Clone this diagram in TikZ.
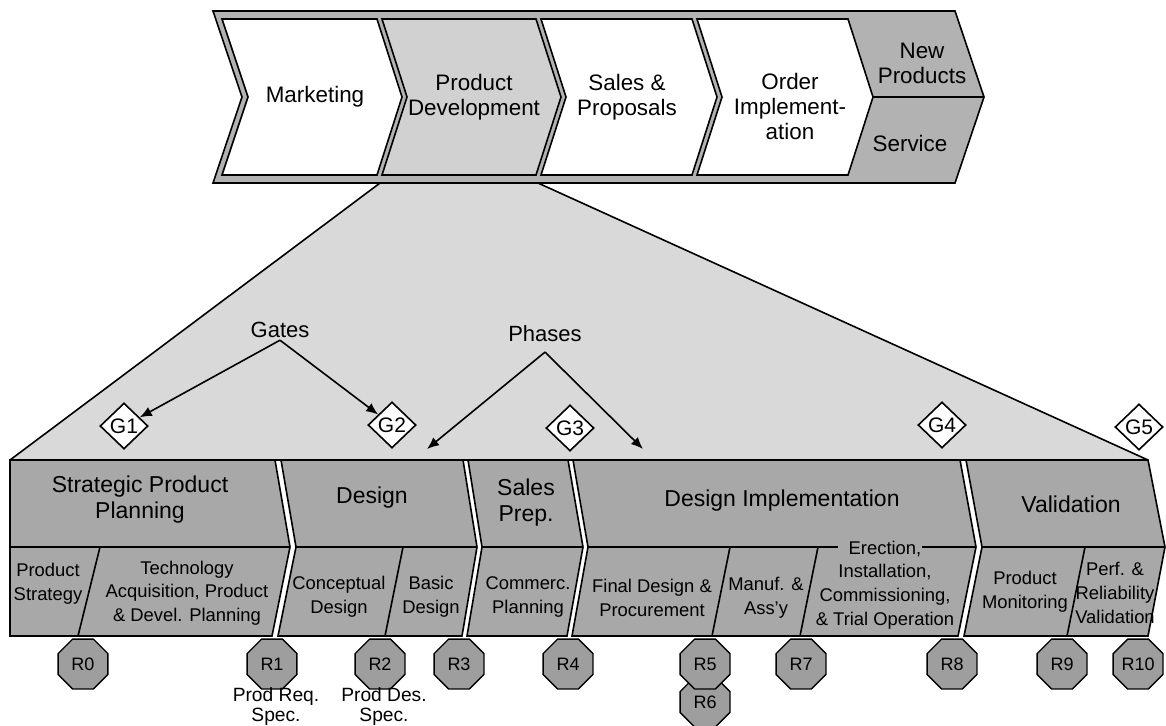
\documentclass[tikz,border=0pt]{standalone}
\usepackage{fontspec}
\setmainfont{Liberation Sans}
\usetikzlibrary{arrows.meta,shapes.geometric}
\definecolor{framegray}{gray}{0.70}
\definecolor{pdgray}{gray}{0.82}
\definecolor{fungray}{gray}{0.85}
\definecolor{bandgray}{gray}{0.66}
\definecolor{revgray}{gray}{0.62}

\begin{document}
\begin{tikzpicture}[
    x=0.5pt,y=-0.5pt,
    every node/.style={align=center,inner sep=1pt},
    outl/.style={draw,line width=0.8pt},
    chainlbl/.style={font=\fontsize{11.2}{12.5}\selectfont},
    phasetxt/.style={font=\fontsize{11.5}{13}\selectfont},
    subtxt/.style={font=\fontsize{9.2}{11.8}\selectfont},
    headlbl/.style={font=\fontsize{11}{13}\selectfont},
    gatebox/.style={diamond,draw,fill=white,line width=0.8pt,inner sep=0pt,
                    minimum width=24pt,minimum height=23pt,
                    font=\fontsize{10.5}{12}\selectfont},
    revoct/.style={regular polygon,regular polygon sides=8,draw,fill=revgray,
                   line width=0.7pt,inner sep=0pt,minimum size=27pt,
                   font=\fontsize{9}{10}\selectfont},
    spectxt/.style={font=\fontsize{9.6}{10}\selectfont,inner sep=0pt},
    arr/.style={-{Latex[length=6pt,width=5pt]},line width=0.8pt}
]
\useasboundingbox (0,0) rectangle (1166,725);

% funnel from product development down to the phases
\fill[fungray] (380,183) -- (538,183) -- (1148,460) -- (10,460) -- cycle;
\draw[line width=0.8pt] (380,183) -- (10,460) (538,183) -- (1148,460);

% value chain
\draw[outl,fill=framegray] (213,11) -- (955,11) -- (984,97) -- (955,183) -- (213,183) -- (242,97) -- cycle;
\draw[outl,fill=white] (222,19) -- (377,19) -- (402,97) -- (377,175) -- (222,175) -- (248,97) -- cycle;
\draw[outl,fill=pdgray] (382,19) -- (536,19) -- (561,97) -- (536,175) -- (382,175) -- (407,97) -- cycle;
\draw[outl,fill=white] (541,19) -- (692,19) -- (717,97) -- (692,175) -- (541,175) -- (566,97) -- cycle;
\draw[outl,fill=white] (697,19) -- (848,19) -- (873,97) -- (848,175) -- (697,175) -- (722,97) -- cycle;
\draw[line width=0.8pt] (873,97) -- (984,97);

\node[chainlbl] (mkt) at (315,97) {Marketing};
\node[chainlbl] (pdev) at (474,97) {Product\\Development};
\node[chainlbl] (sales) at (627,97) {Sales \&\\Proposals};
\node[chainlbl] (order) at (790,106) {Order\\Implement-\\ation};
\node[chainlbl] (newp) at (922,63) {New\\Products};
\node[chainlbl] (serv) at (910,143) {Service};

% phases
\draw[outl,fill=bandgray] (10,460) -- (275,460) -- (290,547) -- (272,636) -- (10,636) -- cycle;
\draw[outl,fill=bandgray] (281,460) -- (463,460) -- (477,547) -- (462,636) -- (278,636) -- (296,547) -- cycle;
\draw[outl,fill=bandgray] (468,460) -- (568,460) -- (583,547) -- (567,636) -- (467,636) -- (482,547) -- cycle;
\draw[outl,fill=bandgray] (573,460) -- (960,460) -- (976,547) -- (958,636) -- (572,636) -- (588,547) -- cycle;
\draw[outl,fill=bandgray] (966,460) -- (1148,460) -- (1165,547) -- (1148,636) -- (964,636) -- (982,547) -- cycle;
\draw[line width=0.8pt] (10,460) -- (1148,460);

% activity rows
\draw[line width=0.8pt] (10,547) -- (290,547) (296,547) -- (477,547) (482,547) -- (583,547)
    (588,547) -- (838,547) (922,547) -- (976,547) (982,547) -- (1165,547);
\draw[line width=0.8pt] (100,547) -- (78,636) (403,547) -- (385,636) (730,547) -- (712,636)
    (818,547) -- (800,636) (1085,547) -- (1067,636);

\node[phasetxt] (spp) at (140,500) {Strategic Product\\Planning};
\node[phasetxt] (des) at (372,498) {Design};
\node[phasetxt] (sprep) at (526,503) {Sales\\Prep.};
\node[phasetxt] (dimp) at (782,501) {Design Implementation};
\node[phasetxt] (val) at (1071,504) {Validation};

\node[subtxt] (pstrat) at (48,584) {Product\\Strategy};
\node[subtxt] (tech) at (187,593) {Technology\\Acquisition, Product\\\& Devel. Planning};
\node[subtxt] (concd) at (339,597) {Conceptual\\Design};
\node[subtxt] (basicd) at (431,597) {Basic\\Design};
\node[subtxt] (commp) at (528,597) {Commerc.\\Planning};
\node[subtxt] (fdp) at (652,598) {Final Design \&\\Procurement};
\node[subtxt] (manuf) at (766,598) {Manuf. \&\\Ass'y};
\node[subtxt] (erect) at (885,585) {Erection,\\Installation,\\Commissioning,\\\& Trial Operation};
\node[subtxt] (pmon) at (1025,592) {Product\\Monitoring};
\node[subtxt] (perf) at (1115,593) {Perf. \&\\Reliability\\Validation};

% gates
\node[gatebox] (g1) at (124,426) {G1};
\node[gatebox] (g2) at (392,425) {G2};
\node[gatebox] (g3) at (570,428) {G3};
\node[gatebox] (g4) at (942,425) {G4};
\node[gatebox] (g5) at (1139,427) {G5};

\node[headlbl] (gates) at (280,330) {Gates};
\node[headlbl,outer sep=4pt] (phases) at (545,334) {Phases};
\coordinate (phl) at (427,449);
\coordinate (phr) at (643,449);
\draw[arr] (gates.south) -- (g1);
\draw[arr] (gates.south) -- (g2);
\draw[arr] (phases.south) -- (phl);
\draw[arr] (phases.south) -- (phr);

% reviews
\node[revoct] (r0) at (83,664) {R0};
\node[revoct] (r1) at (272,664) {R1};
\node[revoct] (r2) at (380,664) {R2};
\node[revoct] (r3) at (459,664) {R3};
\node[revoct] (r4) at (568,664) {R4};
\node[revoct] (r6) at (705,702) {R6};
\node[revoct] (r5) at (705,664) {R5};
\node[revoct] (r7) at (801,664) {R7};
\node[revoct] (r8) at (952,664) {R8};
\node[revoct] (r9) at (1062,664) {R9};
\node[revoct] (r10) at (1138,664) {R10};

\node[spectxt] (prq) at (276,707) {Prod Req.\\Spec.};
\node[spectxt] (pds) at (384,707) {Prod Des.\\Spec.};
\end{tikzpicture}
\end{document}
